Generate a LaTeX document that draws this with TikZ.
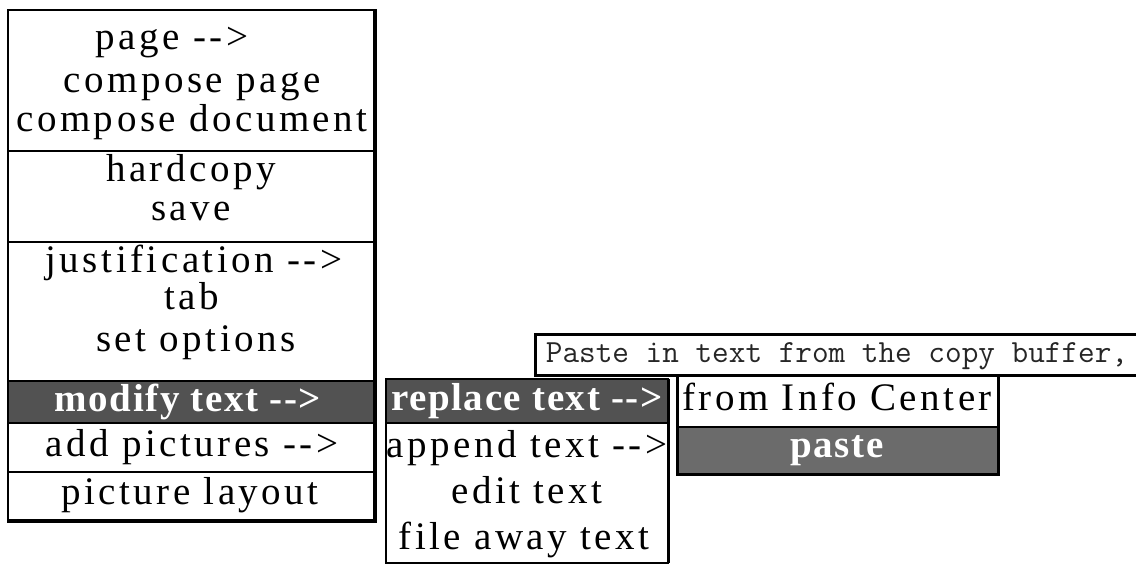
\documentclass[tikz,border=0pt]{standalone}
\usepackage{fontspec}
\newfontfamily\menufont{Liberation Serif}[LetterSpace=9]
\newfontfamily\menubold{Liberation Serif}[LetterSpace=4]
\newcommand\menuarrow{-{}-{}>}
\tikzset{
  item/.style={font=\menufont\fontsize{39}{44}\selectfont, text height=27pt, text depth=9pt, inner sep=0pt, text=black},
  hitem/.style={item, font=\menubold\bfseries\fontsize{39}{44}\selectfont, text=white},
  tip/.style={font=\ttfamily\fontsize{32.3}{36}\selectfont, text height=21pt, text depth=6pt, inner sep=0pt, text=black!85},
  frame/.style={draw=black, line width=2pt},
  sepline/.style={draw=black, line width=1.5pt},
  shadowline/.style={draw=black, line width=4pt},
  hilite/.style={fill=black!68},
  hilitelight/.style={fill=black!58},
}
\begin{document}
\begin{tikzpicture}[x=1pt, y=-1pt]
\useasboundingbox (0,0) rectangle (1136,565);
% highlight fills
\fill[hilite] (8,381) rectangle (375,423);
\fill[hilite] (386,379) rectangle (668,423);
\fill[hilitelight] (677,427) rectangle (998,474);
% main menu
\draw[frame] (8,10) rectangle (375,521);
\draw[shadowline] (375,9) -- (375,523);
\draw[shadowline] (7,521) -- (377,521);
\draw[sepline] (8,151) -- (375,151);
\draw[sepline] (8,242) -- (375,242);
\draw[sepline] (8,381) -- (375,381);
\draw[sepline] (8,423) -- (375,423);
\draw[sepline] (8,472) -- (375,472);
% second menu
\draw[frame] (386,379) rectangle (668,563);
\draw[line width=3pt] (668,379) -- (668,563);
\draw[sepline] (386,423) -- (668,423);
% tooltip
\draw[line width=3pt] (1137,334) -- (535,334) -- (535,375) -- (1137,375);
% third menu
\draw[line width=3pt] (677,375) rectangle (998,474);
\draw[sepline] (677,427) -- (998,427);
% main menu texts
\node[item] (m1) at (172,40) {page \menuarrow};
\node[item] (m2) at (192,83) {compose page};
\node[item] (m3) at (192,122) {compose document};
\node[item] (m4) at (191,172) {hardcopy};
\node[item] (m5) at (191,211) {save};
\node[item] (m6) at (194,263) {justification \menuarrow};
\node[item] (m7) at (192,300) {tab};
\node[item] (m8) at (196,342) {set options};
\node[hitem] (m9) at (188,402) {modify text \menuarrow};
\node[item] (m10) at (192,447) {add pictures \menuarrow};
\node[item] (m11) at (190,495) {picture layout};
% second menu texts
\node[hitem] (s1) at (527,401) {replace text \menuarrow};
\node[item] (s2) at (527,448) {append text \menuarrow};
\node[item] (s3) at (527,494) {edit text};
\node[item] (s4) at (524,540) {file away text};
% third menu texts
\node[item] (t1) at (837,401) {from Info Center};
\node[hitem] (t2) at (837,448) {paste};
% tooltip
\node[tip] (tip) at (837,355) {Paste in text from the copy buffer,};
\end{tikzpicture}
\end{document}
